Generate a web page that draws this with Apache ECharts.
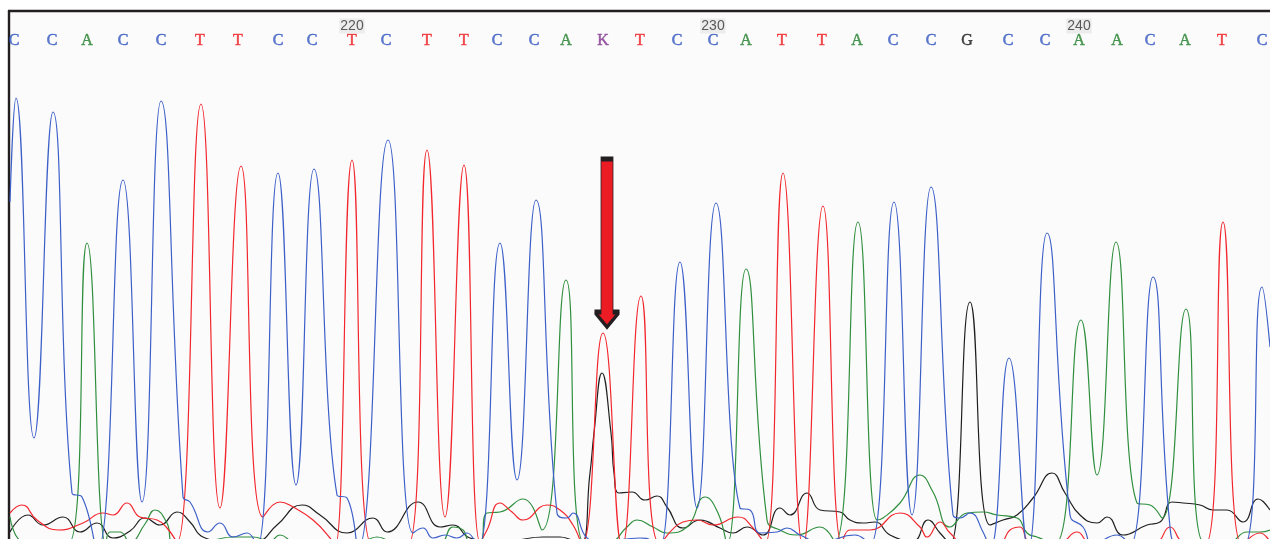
<!DOCTYPE html>
<html>
<head>
<meta charset="utf-8">
<script src="https://cdn.jsdelivr.net/npm/echarts@6/dist/echarts.min.js"></script>
<style>
html,body{margin:0;padding:0;background:#fff;}
#chart{width:1270px;height:539px;}
</style>
</head>
<body>
<div id="chart"></div>
<script>
// Base calls and their positions along the trace (scan position)
var bases = ['C','C','A','C','C','T','T','C','C','T','C','T','T','C','C','A','K','T','C','C','A','T','T','A','C','C','G','C','C','A','A','C','A','T','C'];
var basePositions = [14,52,87,123,161,200,238,278,312,352,386,427,464,497,534,566,603,640,677,713,746,782,822,857,893,931,967,1008,1045,1079,1117,1150,1185,1222,1262];
var firstBaseNumber = 211;

// Trace signals: [scan position, intensity]
var traceC = [[10,337],[16,441],[34,101],[53,427],[72,46],[82,42],[97,-12],[123,359],[142,37],[161,438],[183,42],[190,37],[208,7],[220,16],[233,2],[247,6],[257,-8],[278,366],[296,54],[314,370],[337,44],[347,41],[358,-10],[388,399],[413,6],[423,11],[433,1],[445,4],[457,1],[467,6],[478,-10],[500,296],[517,59],[536,339],[557,26],[567,21],[573,26],[587,1],[600,-3],[640,1],[653,-2],[660,-8],[680,277],[697,31],[716,336],[740,31],[750,29],[760,6],[777,7],[787,11],[800,4],[820,-3],[855,4],[870,-6],[894,337],[912,24],[931,352],[953,24],[960,21],[970,26],[983,7],[990,-10],[1009,181],[1028,-10],[1047,306],[1070,24],[1083,12],[1093,-5],[1117,4],[1130,-6],[1153,262],[1170,12],[1180,-6],[1243,-8],[1262,252],[1270,192]];
var traceT = [[10,26],[22,34],[37,19],[58,9],[83,16],[103,26],[113,24],[127,36],[140,22],[157,19],[167,11],[177,-3],[201,435],[220,31],[241,373],[263,22],[280,37],[293,32],[313,19],[330,1],[335,-8],[352,379],[372,-6],[390,-4],[408,-6],[427,389],[445,22],[464,374],[480,-3],[487,9],[500,36],[512,27],[523,19],[547,34],[560,29],[573,14],[582,-5],[603,206],[622,-8],[641,243],[660,-5],[683,17],[697,19],[713,14],[738,22],[753,11],[765,-5],[783,366],[803,-8],[823,333],[842,-5],[850,9],[870,9],[900,26],[920,12],[927,2],[940,17],[950,6],[965,-5],[1000,-3],[1010,9],[1020,12],[1030,-3],[1060,-3],[1077,7],[1090,-3],[1155,-3],[1170,12],[1183,-3],[1205,-6],[1223,317],[1242,-6],[1260,6],[1270,-3]];
var traceA = [[10,22],[23,-3],[45,-5],[68,-5],[87,296],[106,-5],[110,7],[120,7],[130,-3],[145,15],[155,29],[167,16],[173,-3],[200,-3],[233,2],[253,2],[270,-2],[280,4],[295,-3],[360,-3],[377,2],[395,-3],[440,-3],[453,12],[463,9],[470,-3],[480,-3],[487,26],[500,27],[523,40],[542,9],[566,259],[585,-5],[610,-3],[627,12],[637,19],[653,12],[667,6],[687,12],[705,42],[718,26],[727,-5],[746,270],[767,19],[780,9],[797,4],[820,12],[835,-3],[858,317],[877,19],[883,21],[900,36],[920,64],[933,47],[950,12],[967,26],[983,27],[997,24],[1017,21],[1027,6],[1037,2],[1055,-5],[1081,219],[1097,64],[1116,297],[1137,36],[1150,34],[1162,21],[1186,230],[1205,-5],[1230,-3],[1247,7],[1260,7],[1270,9]];
var traceG = [[10,7],[28,24],[43,14],[63,22],[80,7],[97,16],[113,1],[130,8],[145,21],[160,14],[177,27],[190,17],[203,2],[230,-3],[257,-2],[277,14],[302,34],[320,24],[347,6],[373,21],[387,7],[418,37],[440,12],[453,14],[470,1],[500,-3],[543,2],[560,2],[580,-5],[590,66],[594,106],[602,166],[611,106],[614,66],[619,46],[632,47],[645,39],[657,43],[667,32],[683,11],[700,19],[720,11],[733,6],[747,12],[763,4],[780,31],[790,24],[807,46],[820,29],[840,27],[850,19],[863,16],[875,17],[890,4],[913,-2],[928,19],[940,6],[950,-5],[970,237],[990,14],[1003,19],[1017,24],[1033,41],[1052,66],[1065,46],[1080,24],[1097,16],[1107,22],[1123,4],[1147,14],[1160,17],[1172,37],[1183,36],[1200,34],[1213,29],[1227,29],[1243,17],[1258,40],[1270,29]];

// Annotation arrow over the heterozygous K call
var arrowBaseIndex = 16;
var arrowCenterValue = 296;

var baseColors = {C:'#3358c2', A:'#2c8636', T:'#ec1f25', G:'#1a1a1a', K:'#863a92'};
var traceColors = {C:'#3c5fc8', A:'#2f8f3e', T:'#f2262c', G:'#1e1e1e'};
var letterRow = 498;
var numberRow = 513;

var letterData = bases.map(function(b, i){
  return {value:[basePositions[i], letterRow, b], label:{color: baseColors[b], textBorderColor: baseColors[b]}};
});
var numberData = [];
bases.forEach(function(b, i){
  var n = firstBaseNumber + i;
  if (n % 10 === 0) numberData.push({value:[basePositions[i], numberRow, String(n)]});
});

function traceSeries(name, data, color){
  return {
    name: name, type:'line', data:data, smooth:0.5, showSymbol:false, symbol:'none',
    lineStyle:{color:color, width:1.2}, clip:true, silent:true, z:2
  };
}

var chart = echarts.init(document.getElementById('chart'), null, {renderer:'canvas'});
chart.setOption({
  animation:false,
  backgroundColor:'#ffffff',
  grid:{left:9, top:11, right:0, bottom:0, show:true, backgroundColor:'#fbfbfb', borderWidth:0},
  xAxis:{type:'value', min:9, max:1270, position:'top',
    axisLine:{show:true, onZero:false, lineStyle:{color:'#231f20', width:2.4}},
    axisTick:{show:false}, axisLabel:{show:false}, splitLine:{show:false}},
  yAxis:{type:'value', min:0, max:528,
    axisLine:{show:true, onZero:false, lineStyle:{color:'#231f20', width:2.4}},
    axisTick:{show:false}, axisLabel:{show:false}, splitLine:{show:false}},
  series:[
    traceSeries('G', traceG, traceColors.G),
    traceSeries('A', traceA, traceColors.A),
    traceSeries('T', traceT, traceColors.T),
    traceSeries('C', traceC, traceColors.C),
    {
      name:'bases', type:'scatter', data:letterData, symbolSize:0, silent:true, z:5,
      label:{show:true, position:'inside', formatter:function(p){return p.value[2];},
        fontFamily:'Liberation Serif, Times New Roman, serif', fontSize:16, textBorderWidth:0.5}
    },
    {
      name:'numbers', type:'scatter', data:numberData, symbolSize:0, silent:true, z:5,
      label:{show:true, position:'inside', formatter:function(p){return p.value[2];},
        fontFamily:'Liberation Sans Narrow, Liberation Sans, Arial, sans-serif', fontSize:14,
        color:'#333333', backgroundColor:'#e9e9e9', padding:[1,1,0,1]}
    },
    {
      name:'arrow', type:'scatter', silent:true, z:6,
      data:[[basePositions[arrowBaseIndex] + 4, arrowCenterValue]],
      symbol:'path://M6.5,0 L18.5,0 L18.5,153 L25,153 L12.5,168 L0,153 L6.5,153 Z',
      symbolSize:[25,168], symbolKeepAspect:false,
      itemStyle:{color:'#ec1c24', borderColor:'#231f20', borderWidth:2, opacity:1}
    }
  ]
});
</script>
</body>
</html>
